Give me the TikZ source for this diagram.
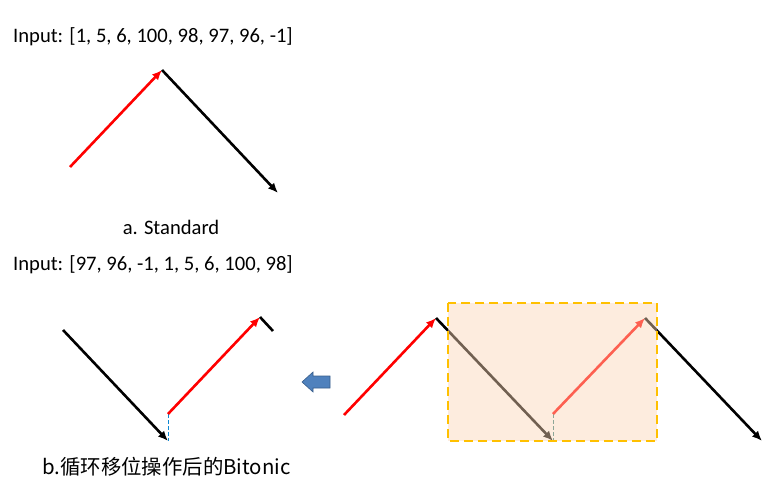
\documentclass[tikz,border=0pt]{standalone}
\usepackage{fontspec}
\setmainfont{Carlito}
\newfontfamily\cjk{Noto Sans CJK SC}
\usetikzlibrary{arrows.meta}
\begin{document}
\begin{tikzpicture}[x=1pt,y=-1pt,
  seg/.style={line width=2.6pt},
  up/.style={seg,draw=red,-{Latex[length=10pt,width=8.5pt]}},
  down/.style={seg,draw=black,-{Latex[length=10pt,width=8.5pt]}},
  cut/.style={seg,draw=black},
  gap/.style={draw=cyan!70!blue,line width=0.8pt,dash pattern=on 4pt off 2pt},
  lbl/.style={font=\fontsize{20.6}{24}\selectfont,inner sep=0pt},
  cjklbl/.style={font=\fontsize{20.4}{24}\selectfont\cjk,inner sep=0pt}]
\useasboundingbox (0,0) rectangle (777,497);
\definecolor{boxfill}{RGB}{251,213,181}
\definecolor{boxline}{RGB}{255,192,0}
\definecolor{blk}{RGB}{79,129,189}
\definecolor{blkline}{RGB}{56,93,138}
% texts
\node[lbl,anchor=base west] (in1) at (13,43) {Input: [1, 5, 6, 100, 98, 97, 96, -1]};
\node[lbl,anchor=base] (capa) at (171,235) {a. Standard};
\node[lbl,anchor=base west] (in2) at (13,271) {Input: [97, 96, -1, 1, 5, 6, 100, 98]};
\node[cjklbl,anchor=base west] (capb) at (42,474) {b.循环移位操作后的Bitonic};
% panel a
\coordinate (a0) at (70,167);
\coordinate (a1) at (162,70);
\coordinate (a2) at (278,193);
\draw[up] (a0) -- (a1);
\draw[down] (a1) -- (a2);
% panel b left
\coordinate (b0) at (63,330);
\coordinate (b1) at (168,441);
\coordinate (b2) at (168,414);
\coordinate (b3) at (260,317);
\coordinate (b4) at (273,331);
\draw[down] (b0) -- (b1);
\draw[gap] (b2) -- (b1);
\draw[up] (b2) -- (b3);
\draw[cut] (b3) -- (b4);
% block arrow
\draw[draw=blkline,fill=blk,line width=0.6pt]
  (330,376) -- (313,376) -- (313,372) -- (302,382) -- (313,392) -- (313,388) -- (330,388) -- cycle;
% panel b right
\coordinate (c0) at (344,415);
\coordinate (c1) at (436,318);
\coordinate (c2) at (553,441);
\coordinate (c3) at (553,414);
\coordinate (c4) at (645,318);
\coordinate (c5) at (762,441);
\draw[up] (c0) -- (c1);
\draw[down] (c1) -- (c2);
\draw[gap,draw=teal!60!gray] (c3) -- (c2);
\draw[up] (c3) -- (c4);
\draw[down] (c4) -- (c5);
% highlight box
\coordinate (h0) at (448,303);
\coordinate (h1) at (657,441);
\fill[boxfill,fill opacity=0.45] (h0) rectangle (h1);
\draw[boxline,line width=1.6pt,dash pattern=on 9pt off 5pt] (h0) rectangle (h1);
\end{tikzpicture}
\end{document}
